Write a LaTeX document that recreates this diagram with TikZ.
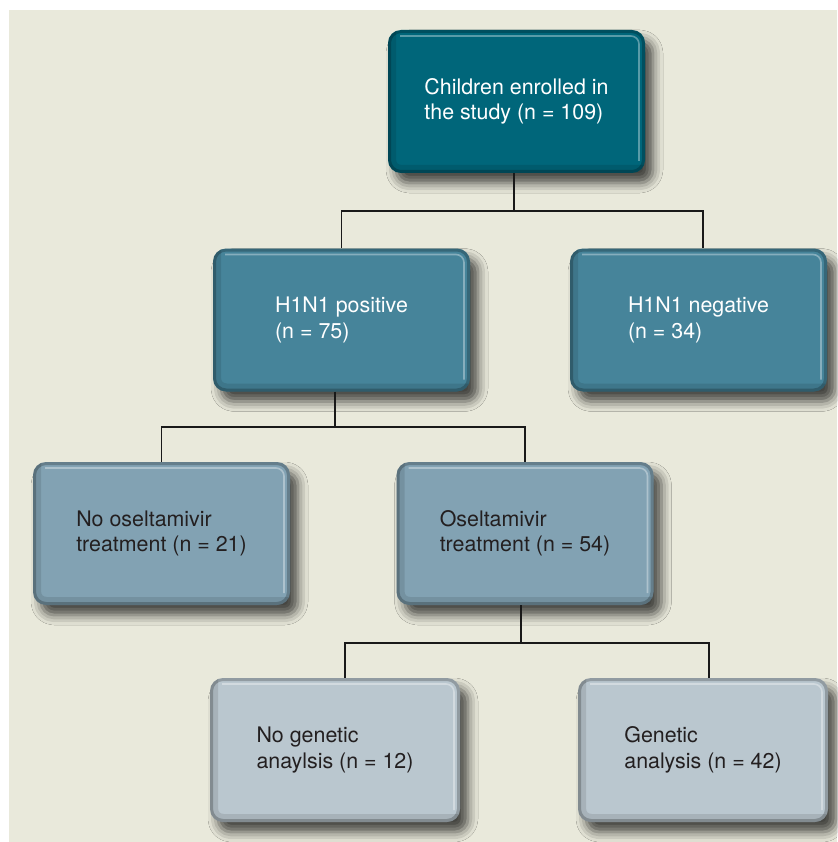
\documentclass[tikz,border=0pt]{standalone}
\usepackage{fontspec}
\setmainfont{TeX Gyre Heros}
\usetikzlibrary{shadows.blur}

\definecolor{bgbeige}{HTML}{E9E9DB}
\definecolor{tealA}{HTML}{00667A}
\definecolor{tealB}{HTML}{46849A}
\definecolor{tealC}{HTML}{82A2B3}
\definecolor{tealD}{HTML}{BAC7CF}
\definecolor{inkdark}{HTML}{231F20}

\tikzset{
  bevel/.style={path picture={
      \draw[black,opacity=.22,line width=6pt,rounded corners=13pt]
        (path picture bounding box.south west) rectangle (path picture bounding box.north east);
      \draw[black,opacity=.10,line width=16pt,rounded corners=13pt]
        (path picture bounding box.north west) |- (path picture bounding box.south east);
      \draw[white,opacity=.35,line width=1.6pt,rounded corners=8pt]
        ([shift={(12pt,-6pt)}]path picture bounding box.north west)
        -| ([shift={(-6pt,12pt)}]path picture bounding box.south east);
    }},
  box/.style={rectangle,rounded corners=13pt,minimum width=257pt,minimum height=143pt,
    align=left,font=\fontsize{21.4}{25.5}\selectfont,bevel,
    blur shadow={shadow xshift=8pt,shadow yshift=-10pt,shadow blur radius=10pt,shadow opacity=70}},
  lvla/.style={fill=tealA,text=white},
  lvlb/.style={fill=tealB,text=white},
  lvlc/.style={fill=tealC,text=inkdark},
  lvld/.style={fill=tealD,text=inkdark,minimum width=250pt,minimum height=144pt},
  link/.style={line width=1.8pt,draw=black!90}
}

\begin{document}
\begin{tikzpicture}[x=1pt,y=-1pt]
  \useasboundingbox (0,0) rectangle (837,842);
  \fill[bgbeige] (9,10) rectangle (837,842);

  % boxes
  \node (study) [box,lvla] at (516.5,101.5) {Children enrolled in\\the study (n = 109)};
  \node (pos) [box,lvlb] at (341.5,320) {H1N1 positive\\(n = 75)};
  \node (neg) [box,lvlb] at (698.5,320) {H1N1 negative\\(n = 34)};
  \node (noosel) [box,lvlc] at (161.5,533.5) {No oseltamivir\\treatment (n = 21)};
  \node (osel) [box,lvlc] at (525,533.5) {Oseltamivir\\treatment (n = 54)};
  \node (nogen) [box,lvld] at (335,750) {No genetic\\anaylsis (n = 12)};
  \node (gen) [box,lvld] at (703,750) {Genetic\\analysis (n = 42)};

  % connectors
  \coordinate (j1) at (514,211);
  \coordinate (j2) at (335,427);
  \coordinate (j3) at (521,643);
  \draw[link] (study.south -| j1) -- (j1);
  \draw[link] (pos.north) |- (j1) -| ([xshift=4.5pt]neg.north);
  \draw[link] (pos.south -| j2) -- (j2);
  \draw[link] (noosel.north) |- (j2) -| (osel.north);
  \draw[link] (osel.south -| j3) -- (j3);
  \draw[link] ([xshift=10pt]nogen.north) |- (j3) -| ([xshift=6pt]gen.north);
\end{tikzpicture}
\end{document}
